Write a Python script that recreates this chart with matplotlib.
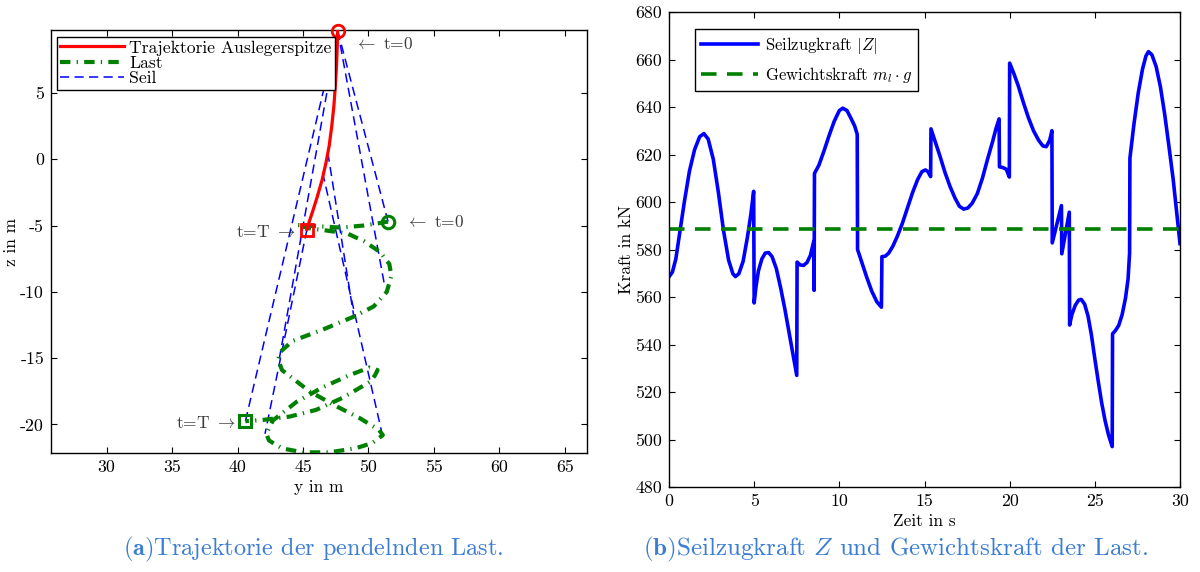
import matplotlib

matplotlib.use("Agg")
import matplotlib.pyplot as plt

plt.rcParams["font.family"] = ["cmr10", "DejaVu Serif"]
plt.rcParams["mathtext.fontset"] = "cm"
plt.rcParams["axes.unicode_minus"] = False
plt.rcParams["axes.formatter.use_mathtext"] = False

# --- (a) trajectories in the y-z plane ---
tip_y = [47.65, 47.62, 47.56, 47.47, 47.36, 47.2, 47.0, 46.75, 46.45, 46.1, 45.75, 45.48, 45.3]
tip_z = [9.7, 8.5, 7.0, 5.5, 4.0, 2.5, 1.0, -0.3, -1.6, -2.8, -3.9, -4.7, -5.3]

load_y = [51.5, 50.6, 49.6, 47.9, 46.1, 44.5, 45.5, 47.0, 48.4, 49.7, 50.9, 51.6,
          51.75, 51.4, 50.4, 48.8, 46.5, 44.2, 43.3, 43.1, 43.4, 45.5, 47.5,
          49.3, 50.8, 51.1, 50.3, 49.0, 47.0, 45.0, 43.4, 42.4, 42.2, 42.7,
          44.5, 46.5, 48.5, 50.1, 50.7, 50.5, 50.1, 48.0, 46.0, 44.0, 42.0, 40.6]
load_z = [-4.7, -4.85, -5.0, -5.15, -5.05, -4.95, -5.2, -5.4, -5.6, -6.2, -7.0, -7.9,
          -8.8, -10.0, -11.1, -11.9, -12.85, -13.7, -14.5, -15.1, -15.9, -17.5, -18.6,
          -19.5, -20.4, -20.8, -21.4, -21.8, -22.1, -22.1, -21.8, -21.2, -20.7, -19.7,
          -18.3, -17.2, -16.3, -15.7, -15.9, -16.3, -16.8, -18.0, -18.9, -19.4, -19.65, -19.75]

# rope snapshots: (y_tip, z_tip) -> (y_load, z_load)
rope_y0 = [47.65, 47.65, 47.65, 47.6, 46.5, 46.9, 45.3]
rope_z0 = [9.7, 9.7, 9.7, 9.3, -1.0, 0.5, -5.3]
rope_y1 = [51.5, 51.25, 40.6, 43.2, 51.0, 48.9, 42.1]
rope_z1 = [-4.7, -9.6, -19.75, -15.0, -20.5, -11.95, -20.7]

# --- (b) rope force over time ---
time_s = [0.0, 0.2, 0.4, 0.63, 0.9, 1.2, 1.5, 1.8, 2.05, 2.3, 2.6, 2.9, 3.2, 3.5, 3.75, 3.9,
          4.1, 4.35, 4.6, 4.8, 4.97,
          5.0, 5.1, 5.25, 5.45, 5.65, 5.85, 6.05, 6.3, 6.55, 6.8, 7.05, 7.3, 7.5,
          7.52, 7.7, 7.9, 8.1, 8.3, 8.5, 8.52,
          8.54, 8.8, 9.1, 9.4, 9.7, 10.0, 10.2, 10.45, 10.7, 10.9, 11.05,
          11.07, 11.3, 11.6, 11.9, 12.2, 12.47,
          12.5, 12.7, 12.9, 13.15, 13.4, 13.7, 14.0, 14.3, 14.6, 14.85, 15.05, 15.2, 15.36,
          15.38, 15.6, 15.9, 16.2, 16.5, 16.8, 17.05, 17.3, 17.55, 17.8, 18.1, 18.4, 18.7,
          19.0, 19.2, 19.38,
          19.4, 19.6, 19.8, 19.98,
          20.0, 20.25, 20.5, 20.8, 21.1, 21.4, 21.7, 21.95, 22.15, 22.35, 22.48,
          22.5, 23.04, 23.06, 23.5,
          23.52, 23.65, 23.85, 24.05, 24.2, 24.4, 24.6, 24.8, 25.0, 25.2, 25.4, 25.6, 25.8, 26.02,
          26.04, 26.2, 26.4, 26.6, 26.8, 26.95, 27.04,
          27.06, 27.3, 27.55, 27.8, 28.0, 28.15, 28.35, 28.6, 28.85, 29.1, 29.35, 29.6, 29.8, 30.0]
force_kN = [568.5, 570.5, 576.0, 587.0, 600.0, 613.0, 622.0, 627.5, 628.8, 626.5, 618.0, 604.0, 588.0,
            575.5, 569.8, 568.6, 569.8, 575.0, 585.0, 594.5, 604.5,
            557.5, 564.0, 571.0, 576.0, 578.5, 578.7, 577.0, 572.0, 564.0, 555.0, 545.0, 535.0, 527.0,
            574.7, 573.5, 573.3, 574.5, 577.5, 583.5, 562.8,
            612.0, 615.5, 621.5, 628.0, 634.0, 638.5, 639.5, 638.5, 635.0, 632.0, 628.5,
            580.0, 575.0, 568.5, 562.5, 558.0, 555.7,
            577.0, 577.2, 578.5, 581.5, 585.5, 591.0, 597.5, 604.0, 609.5, 612.8, 613.5, 612.8, 610.7,
            630.8, 626.0, 619.5, 612.5, 606.5, 601.5, 598.2, 597.0, 597.5, 599.5, 603.5, 610.0, 618.0,
            625.5, 631.0, 635.0,
            614.8, 614.5, 613.8, 610.5,
            658.5, 654.0, 649.0, 642.0, 635.5, 630.0, 626.0, 623.6, 623.3, 626.0, 630.0,
            582.8, 598.5, 578.2, 595.7,
            548.2, 552.5, 556.5, 558.7, 559.0, 557.0, 552.0, 544.0, 534.0, 524.5, 515.5, 508.0, 502.0, 497.0,
            544.5, 545.8, 548.0, 552.5, 559.5, 567.5, 578.5,
            618.5, 633.0, 646.0, 656.0, 661.5, 663.3, 662.0, 657.0, 648.5, 637.0, 623.5, 609.5, 596.0, 582.5]
weight_kN = 588.6

fig = plt.figure(figsize=(12, 5.72), dpi=100)

# left panel
ax1 = fig.add_axes([51 / 1200, 1 - 453 / 572, 536 / 1200, 423 / 572])
for i in range(len(rope_y0)):
    ax1.plot([rope_y0[i], rope_y1[i]], [rope_z0[i], rope_z1[i]], color="#0000ff",
             lw=1.1, dashes=(6, 3.5), label="Seil" if i == 0 else None, zorder=2)
ax1.plot(load_y, load_z, color="#008000", lw=3.0, dashes=(2.5, 1.5, 0.3, 1.5),
         label="Last", zorder=3)
ax1.plot(tip_y, tip_z, color="#ff0000", lw=2.3, label="Trajektorie Auslegerspitze", zorder=4)

ax1.plot(tip_y[0], tip_z[0], "o", ms=9, mfc="none", mec="#ff0000", mew=2, zorder=5, clip_on=False)
ax1.plot(tip_y[-1], tip_z[-1], "s", ms=8, mfc="none", mec="#ff0000", mew=2, zorder=5)
ax1.plot(load_y[0], load_z[0], "o", ms=9, mfc="none", mec="#008000", mew=2.2, zorder=5)
ax1.plot(load_y[-1], load_z[-1], "s", ms=8, mfc="none", mec="#008000", mew=2.2, zorder=5)

txt_col = "#3c3c3c"
ax1.text(48.9, 8.7, r"$\leftarrow$ t=0", fontsize=12.5, color=txt_col, va="center", ha="left")
ax1.text(52.8, -4.75, r"$\leftarrow$ t=0", fontsize=12.5, color=txt_col, va="center", ha="left")
ax1.text(44.5, -5.5, r"t=T $\rightarrow$", fontsize=12.5, color=txt_col, va="center", ha="right")
ax1.text(39.9, -19.85, r"t=T $\rightarrow$", fontsize=12.5, color=txt_col, va="center", ha="right")

ax1.set_xlim(25.75, 66.7)
ax1.set_ylim(-22.15, 9.75)
ax1.set_xticks([30, 35, 40, 45, 50, 55, 60, 65])
ax1.set_yticks([-20, -15, -10, -5, 0, 5])
ax1.set_xlabel("y in m", fontsize=12.5)
ax1.set_ylabel("z in m", fontsize=12.5)
ax1.xaxis.set_label_coords(0.5, -0.063)
ax1.yaxis.set_label_coords(-0.060, 0.5)

h, l = ax1.get_legend_handles_labels()
order = [l.index("Trajektorie Auslegerspitze"), l.index("Last"), l.index("Seil")]
leg1 = ax1.legend([h[k] for k in order], [l[k] for k in order], loc="upper left",
                  bbox_to_anchor=(0.011, 0.984), fontsize=12.7, handlelength=3.6,
                  handletextpad=0.3, labelspacing=0.0, borderpad=0.2, borderaxespad=0.0,
                  fancybox=False, framealpha=1, edgecolor="black")
leg1.get_frame().set_linewidth(1.0)

# right panel
ax2 = fig.add_axes([669 / 1200, 1 - 487 / 572, 511 / 1200, 475 / 572])
ax2.plot(time_s, force_kN, color="#0000ff", lw=2.6, label=r"Seilzugkraft $|Z|$")
ax2.plot([0, 30], [weight_kN, weight_kN], color="#008000", lw=2.6, dashes=(4.3, 2.9),
         label=r"Gewichtskraft $m_l\cdot g$")
ax2.set_xlim(0, 30)
ax2.set_ylim(480, 680)
ax2.set_xticks([0, 5, 10, 15, 20, 25, 30])
ax2.set_yticks(list(range(480, 681, 20)))
ax2.set_xlabel("Zeit in s", fontsize=12.5)
ax2.set_ylabel("Kraft in kN", fontsize=12.5)
ax2.xaxis.set_label_coords(0.5, -0.056)
ax2.yaxis.set_label_coords(-0.068, 0.5)
leg2 = ax2.legend(loc="upper left", bbox_to_anchor=(0.05, 0.965), fontsize=12,
                  handlelength=3.4, handletextpad=0.4, labelspacing=0.5, borderpad=0.4,
                  borderaxespad=0.0, fancybox=False, framealpha=1, edgecolor="black")
leg2.get_frame().set_linewidth(1.0)

for ax in (ax1, ax2):
    ax.tick_params(direction="in", top=True, right=True, length=4, width=0.8,
                   labelsize=12.8, pad=5)
    for sp in ax.spines.values():
        sp.set_linewidth(1.0)

cap_col = "#3a7dd3"
fig.text(313 / 1200, 1 - 549 / 572, r"$\mathbf{(a)}$Trajektorie der pendelnden Last.",
         fontsize=17.5, color=cap_col, ha="center", va="center")
fig.text(895 / 1200, 1 - 549 / 572, r"$\mathbf{(b)}$Seilzugkraft $Z$ und Gewichtskraft der Last.",
         fontsize=18, color=cap_col, ha="center", va="center")

fig.savefig("out.png", dpi=100)
